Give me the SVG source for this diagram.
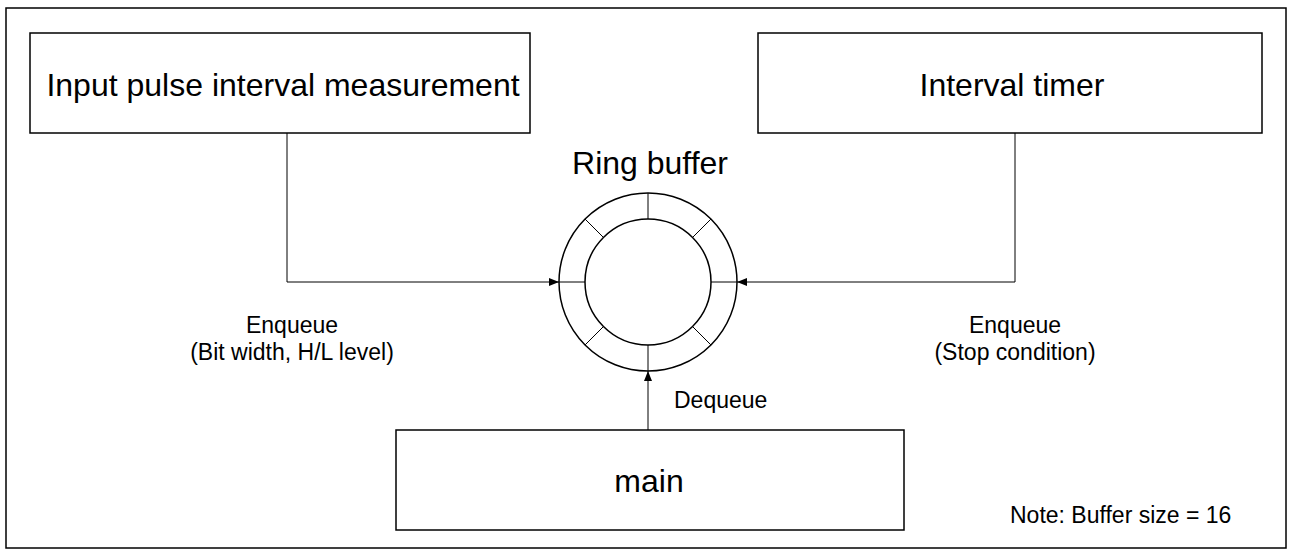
<svg xmlns="http://www.w3.org/2000/svg" width="1292" height="555" viewBox="0 0 1292 555">
<style>
.box{fill:#fff;stroke:#000;stroke-width:1.5}
.ln{fill:none;stroke:#000;stroke-width:1}
.big{font-family:"Liberation Sans",Arial,sans-serif;font-size:32px;fill:#000;text-anchor:middle}
.sm{font-family:"Liberation Sans",Arial,sans-serif;font-size:23px;fill:#000;text-anchor:middle}
</style>
<defs>
<marker id="ah" markerWidth="10" markerHeight="8" refX="10" refY="4" orient="auto" markerUnits="userSpaceOnUse">
<path d="M0,0 L10,4 L0,8 Z" fill="#000"/>
</marker>
</defs>
<rect x="0" y="0" width="1292" height="555" fill="#fff"/>
<rect x="6" y="8" width="1280" height="540" fill="none" stroke="#000" stroke-width="1.5"/>
<g id="input-pulse">
<rect class="box" x="30" y="33" width="500" height="100"/>
<text class="big" x="283" y="96">Input pulse interval measurement</text>
</g>
<g id="interval-timer">
<rect class="box" x="758" y="33" width="504" height="100"/>
<text class="big" x="1012" y="96">Interval timer</text>
</g>
<g id="main">
<rect class="box" x="396" y="430" width="508" height="100"/>
<text class="big" x="649" y="492">main</text>
</g>
<g id="ring-buffer">
<text class="big" x="650" y="174">Ring buffer</text>
<circle cx="648" cy="282" r="89" fill="#fff" stroke="#000" stroke-width="1.5"/>
<circle cx="648" cy="282" r="63" fill="#fff" stroke="#000" stroke-width="1.5"/>
<g class="ln">
<line x1="648" y1="193" x2="648" y2="219"/>
<line x1="648" y1="345" x2="648" y2="371"/>
<line x1="559" y1="282" x2="585" y2="282"/>
<line x1="711" y1="282" x2="737" y2="282"/>
<line x1="585.1" y1="219.1" x2="603.5" y2="237.5"/>
<line x1="710.9" y1="219.1" x2="692.5" y2="237.5"/>
<line x1="585.1" y1="344.9" x2="603.5" y2="326.5"/>
<line x1="710.9" y1="344.9" x2="692.5" y2="326.5"/>
</g>
</g>
<g id="connectors">
<polyline class="ln" points="287,133 287,282 559,282" marker-end="url(#ah)"/>
<polyline class="ln" points="1015,133 1015,282 737,282" marker-end="url(#ah)"/>
<line class="ln" x1="648" y1="430" x2="648" y2="371" marker-end="url(#ah)"/>
<text class="sm" x="292" y="333">Enqueue</text>
<text class="sm" x="292" y="360">(Bit width, H/L level)</text>
<text class="sm" x="1015" y="333">Enqueue</text>
<text class="sm" x="1015" y="360">(Stop condition)</text>
<text class="sm" x="674" y="408" style="text-anchor:start">Dequeue</text>
</g>
<text class="sm" x="1010" y="523" style="text-anchor:start">Note: Buffer size = 16</text>
</svg>
